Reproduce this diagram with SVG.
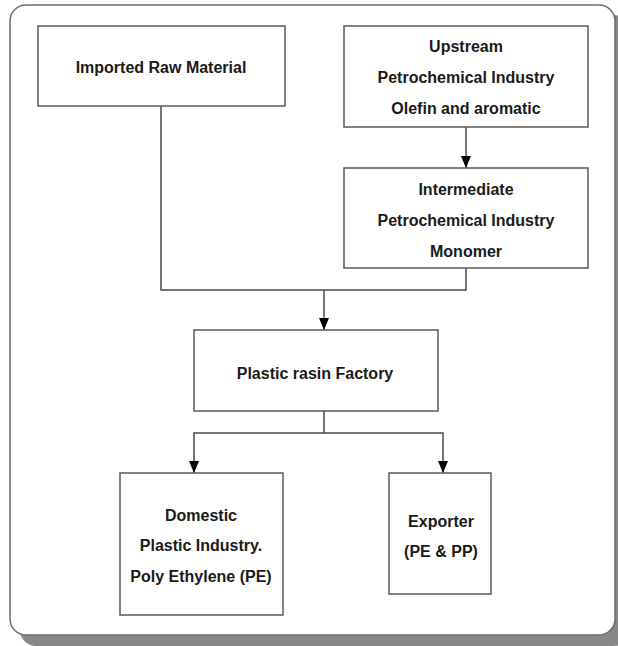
<svg xmlns="http://www.w3.org/2000/svg" width="618" height="646" viewBox="0 0 618 646">
  <style>
    .box { fill: #ffffff; stroke: #5a5a5a; stroke-width: 1.5; }
    .lbl { font-family: "Liberation Sans", Arial, sans-serif; font-size: 16px; font-weight: bold; fill: #1a1a1a; text-anchor: middle; }
    .wire { fill: none; stroke: #4a4a4a; stroke-width: 1.5; }
  </style>
  <defs>
    <!-- filled triangular head, tip at the end of the line -->
    <marker id="arrow" markerWidth="12" markerHeight="10" refX="12" refY="5" orient="auto-start-reverse" markerUnits="userSpaceOnUse" viewBox="0 0 12 10">
      <path d="M0,0 L12,5 L0,10 Z" fill="#000000"/>
    </marker>
  </defs>

  <!-- page frame with drop shadow -->
  <rect x="20" y="15" width="610" height="631" rx="16" fill="#888888"/>
  <rect x="10" y="5" width="605" height="630" rx="16" fill="#ffffff" stroke="#6e6e6e" stroke-width="1.5"/>

  <!-- connectors -->
  <g id="connectors">
    <line class="wire" x1="466" y1="127" x2="466" y2="168" marker-end="url(#arrow)"/>
    <polyline class="wire" points="161,106 161,290 466,290 466,268"/>
    <line class="wire" x1="324" y1="290" x2="324" y2="330" marker-end="url(#arrow)"/>
    <line class="wire" x1="324" y1="411" x2="324" y2="433"/>
    <polyline class="wire" points="194,473 194,433 443,433 443,473" marker-start="url(#arrow)" marker-end="url(#arrow)"/>
  </g>

  <g id="imported-raw-material">
    <rect class="box" x="38" y="26" width="247" height="80"/>
    <text class="lbl" x="161" y="73">Imported Raw Material</text>
  </g>

  <g id="upstream">
    <rect class="box" x="344" y="26" width="244" height="101"/>
    <text class="lbl" x="466" y="52">Upstream</text>
    <text class="lbl" x="466" y="83">Petrochemical Industry</text>
    <text class="lbl" x="466" y="114">Olefin and aromatic</text>
  </g>

  <g id="intermediate">
    <rect class="box" x="344" y="168" width="244" height="100"/>
    <text class="lbl" x="466" y="195">Intermediate</text>
    <text class="lbl" x="466" y="226">Petrochemical Industry</text>
    <text class="lbl" x="466" y="257">Monomer</text>
  </g>

  <g id="plastic-rasin-factory">
    <rect class="box" x="194" y="330" width="244" height="81"/>
    <text class="lbl" x="315" y="379">Plastic rasin Factory</text>
  </g>

  <g id="domestic">
    <rect class="box" x="120" y="473" width="163" height="142"/>
    <text class="lbl" x="201" y="521">Domestic</text>
    <text class="lbl" x="201" y="551">Plastic Industry.</text>
    <text class="lbl" x="201" y="582">Poly Ethylene (PE)</text>
  </g>

  <g id="exporter">
    <rect class="box" x="389" y="473" width="102" height="121"/>
    <text class="lbl" x="441" y="527">Exporter</text>
    <text class="lbl" x="441" y="557">(PE &amp; PP)</text>
  </g>
</svg>
